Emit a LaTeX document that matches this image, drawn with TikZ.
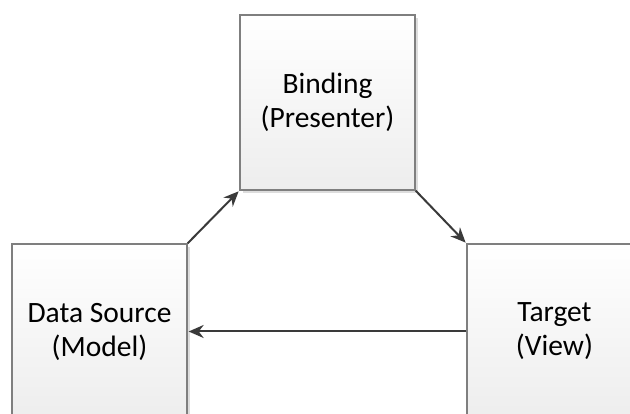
\documentclass[tikz,border=0pt]{standalone}
\usepackage{fontspec}
\setmainfont{Carlito}
\usetikzlibrary{arrows.meta,shadows,positioning}

\definecolor{boxline}{HTML}{7F7F7F}
\definecolor{arrowline}{HTML}{3A3A3A}

\tikzset{
    block/.style={draw=boxline, line width=1.3pt, minimum width=175pt, minimum height=175pt,
        top color=white, bottom color=gray!14, align=center,
        font=\fontsize{29.5}{34}\selectfont,
        drop shadow={shadow xshift=3pt, shadow yshift=-3pt, fill=gray!45, opacity=0.6}},
    link/.style={-{Stealth[length=15pt,width=13pt]}, arrowline, line width=2pt, shorten >=1pt},
}

\begin{document}
\begin{tikzpicture}[x=1pt,y=1pt]
\useasboundingbox (0,0) rectangle (630,414);

    \node[block] (binding) at (327.5,311.5) {Binding\\(Presenter)};
    \node[block] (source) at (99.5,82.5) {Data Source\\(Model)};
    \node[block] (target) at (554.5,82.5) {Target\\(View)};

    % arrows between the three parts
    \draw[link] (source.north east) -- (binding.south west);
    \draw[link] (binding.south east) -- (target.north west);
    \draw[link] (target.west) -- (source.east);

\end{tikzpicture}
\end{document}
